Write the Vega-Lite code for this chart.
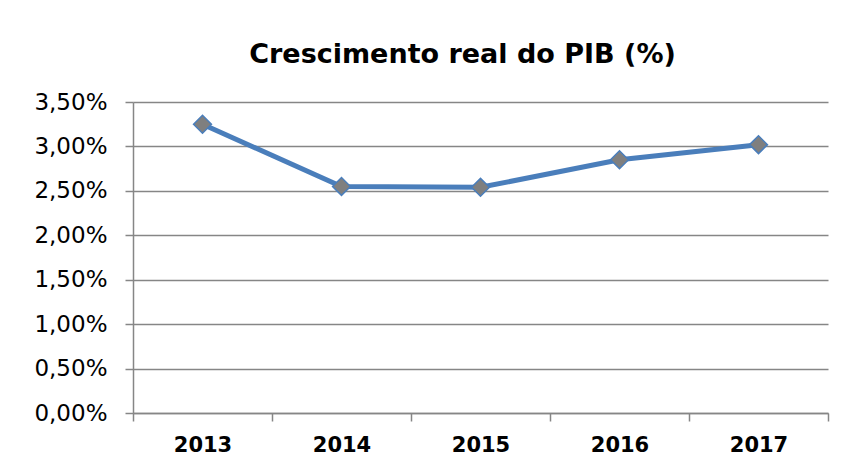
{
  "$schema": "https://vega.github.io/schema/vega-lite/v6.json",
  "autosize": {"type": "none"},
  "padding": {"left": 133, "top": 102, "right": 23, "bottom": 56},
  "width": 695,
  "height": 311,
  "background": "white",
  "config": {
    "locale": {"number": {"decimal": ",", "thousands": ".", "grouping": [3], "currency": ["R$", ""]}},
    "view": {"stroke": null},
    "font": "DejaVu Sans"
  },
  "title": {
    "text": "Crescimento real do PIB (%)",
    "font": "DejaVu Sans",
    "fontSize": 27,
    "fontWeight": "bold",
    "color": "black",
    "anchor": "middle",
    "frame": "group",
    "dx": -18,
    "baseline": "alphabetic",
    "offset": 1
  },
  "data": {
    "values": [
      {"ano": "2013", "pib": 0.0325},
      {"ano": "2014", "pib": 0.0255},
      {"ano": "2015", "pib": 0.0254},
      {"ano": "2016", "pib": 0.0285},
      {"ano": "2017", "pib": 0.0302}
    ]
  },
  "encoding": {
    "x": {
      "field": "ano",
      "type": "ordinal",
      "scale": {"type": "band", "paddingInner": 0, "paddingOuter": 0},
      "axis": {
        "title": null,
        "labelAngle": 0,
        "labelFont": "DejaVu Sans",
        "labelFontSize": 21,
        "labelFontWeight": "bold",
        "labelColor": "black",
        "labelPadding": 13,
        "tickBand": "extent",
        "tickSize": 8,
        "tickColor": "#868686",
        "domainColor": "#868686",
        "domainWidth": 1.5,
        "tickWidth": 1.5,
        "grid": false
      }
    },
    "y": {
      "field": "pib",
      "type": "quantitative",
      "scale": {"domain": [0, 0.035], "nice": false},
      "axis": {
        "title": null,
        "values": [0, 0.005, 0.01, 0.015, 0.02, 0.025, 0.03, 0.035],
        "format": ".2%",
        "labelFont": "DejaVu Sans",
        "labelFontSize": 23,
        "labelColor": "black",
        "labelPadding": 18,
        "tickSize": 8,
        "tickColor": "#868686",
        "tickWidth": 1.5,
        "domainColor": "#868686",
        "domainWidth": 1.5,
        "grid": true,
        "gridColor": "#868686",
        "gridWidth": 1.5
      }
    }
  },
  "layer": [
    {
      "mark": {"type": "line", "color": "#4A7EBB", "strokeWidth": 5}
    },
    {
      "mark": {"type": "point", "shape": "diamond", "filled": true, "size": 320, "fill": "#7F7F7F", "stroke": "#4A7EBB", "strokeWidth": 1.5, "opacity": 1}
    }
  ]
}
